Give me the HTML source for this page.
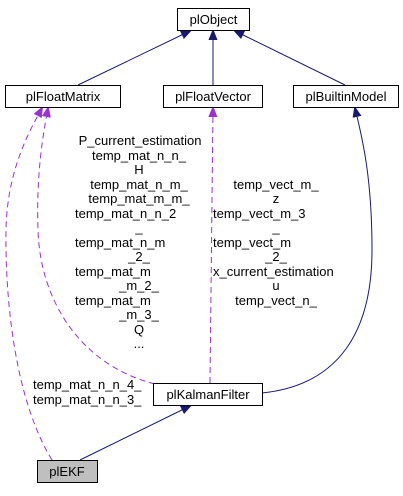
<!DOCTYPE html>
<html><head><style>
body{margin:0;width:403px;height:491px;background:#fff;overflow:hidden}
svg text{font-family:"Liberation Sans",Arial,sans-serif;font-size:13px;fill:#000}
</style></head><body>
<svg width="403" height="491" viewBox="0 0 403 491" xmlns="http://www.w3.org/2000/svg">
<defs>
<marker id="an" markerWidth="10" markerHeight="10" refX="9" refY="5" orient="auto" markerUnits="userSpaceOnUse"><path d="M0,1 L10,5 L0,9 z" fill="#191970" stroke="#191970"/></marker>
<marker id="ap" markerWidth="10" markerHeight="10" refX="9" refY="5" orient="auto" markerUnits="userSpaceOnUse"><path d="M0,1 L10,5 L0,9 z" fill="#9a32cd" stroke="#9a32cd"/></marker>
</defs>
<g fill="none" stroke="#191970" stroke-width="1">
<path d="M78,85 L190,31" marker-end="url(#an)"/>
<path d="M213,85 L213,31" marker-end="url(#an)"/>
<path d="M345,85 L235,31" marker-end="url(#an)"/>
<path d="M80,460 L190,406" marker-end="url(#an)"/>
<path d="M262,393 C340,385 372,330 372,250 C372,170 360,130 355,108" marker-end="url(#an)"/>
</g>
<g fill="none" stroke="#9a32cd" stroke-width="1" stroke-dasharray="6,4">
<path d="M210,383 L213,108" marker-end="url(#ap)"/>
<path d="M155,384 C80,365 40,300 38,230 C36,170 44,130 48,108" marker-end="url(#ap)"/>
<path d="M52,460 C15,400 5,300 6,230 C7,170 30,130 42,108" marker-end="url(#ap)"/>
</g>
<g stroke="#000" stroke-width="1">
<rect x="177.5" y="8.5" width="72" height="22" fill="#fff"/>
<rect x="5.5" y="85.5" width="115" height="22" fill="#fff"/>
<rect x="163.5" y="85.5" width="99" height="22" fill="#fff"/>
<rect x="293.5" y="85.5" width="105" height="22" fill="#fff"/>
<rect x="153.5" y="383.5" width="109" height="22" fill="#fff"/>
<rect x="37.5" y="460.5" width="60" height="22" fill="#bfbfbf"/>
</g>
<text x="213.5" y="24" text-anchor="middle">plObject</text>
<text x="63" y="101" text-anchor="middle">plFloatMatrix</text>
<text x="213" y="101" text-anchor="middle">plFloatVector</text>
<text x="346" y="101" text-anchor="middle">plBuiltinModel</text>
<text x="208" y="399" text-anchor="middle">plKalmanFilter</text>
<text x="67" y="476" text-anchor="middle">plEKF</text>
<g text-anchor="middle">
<text x="140" y="145">P_current_estimation</text>
<text x="139" y="160">temp_mat_n_n_</text>
<text x="139" y="174">H</text>
<text x="139" y="189">temp_mat_n_m_</text>
<text x="139" y="203">temp_mat_m_m_</text>
<text x="139" y="232">_</text>
<text x="139" y="261">_2_</text>
<text x="139" y="290">_m_2_</text>
<text x="139" y="319">_m_3_</text>
<text x="139" y="334">Q</text>
<text x="139" y="348">...</text>
<text x="276" y="189">temp_vect_m_</text>
<text x="276" y="203">z</text>
<text x="276" y="232">_</text>
<text x="276" y="261">_2_</text>
<text x="276" y="290">u</text>
<text x="276" y="305">temp_vect_n_</text>
</g>
<text x="75" y="218">temp_mat_n_n_2</text>
<text x="75" y="247">temp_mat_n_m</text>
<text x="75" y="276">temp_mat_m</text>
<text x="75" y="305">temp_mat_m</text>
<text x="213" y="218">temp_vect_m_3</text>
<text x="213" y="247">temp_vect_m</text>
<text x="213" y="276">x_current_estimation</text>
<text x="33" y="389">temp_mat_n_n_4_</text>
<text x="33" y="404">temp_mat_n_n_3_</text>
</svg>
</body></html>
